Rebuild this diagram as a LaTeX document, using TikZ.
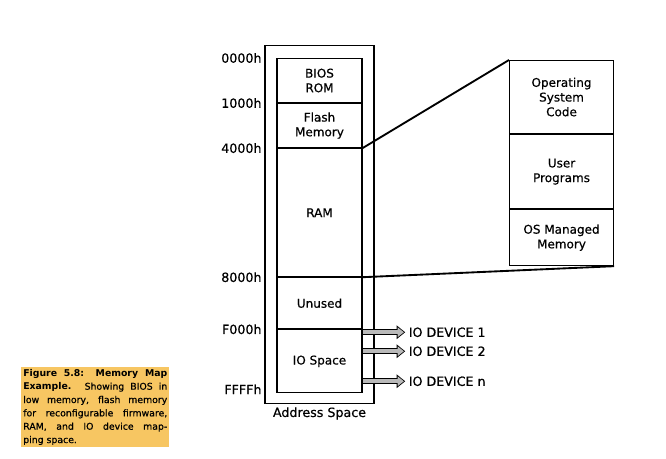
\documentclass[tikz,border=0pt]{standalone}
\usepackage{fontspec}
\setmainfont{DejaVu Sans}[FakeBold=0.6]
\newfontfamily\capbold{DejaVu Sans Bold}
\usepackage{xcolor}
\usepackage{tikz}
\usetikzlibrary{arrows.meta,positioning,fit,backgrounds}

\definecolor{capyellow}{RGB}{247,198,98}

\begin{document}
\begin{tikzpicture}[
    x=0.75pt, y=-0.75pt,
    seg/.style={draw, line width=0.8pt, align=center, minimum width=63.75pt, inner sep=0pt, font=\fontsize{9}{11}\selectfont},
    osseg/.style={draw, line width=0.8pt, align=center, minimum width=78pt, inner sep=0pt, font=\fontsize{9}{11}\selectfont},
    hex/.style={font=\fontsize{9.5}{11}\selectfont, inner sep=0pt},
    dev/.style={font=\fontsize{9.5}{11}\selectfont, inner sep=0pt},
    zoomline/.style={line width=1.4pt},
    ioarrow/.style={line width=4.4pt, -{Triangle[length=6.5pt, width=10pt]}, shorten >=2.5pt,
      postaction={draw=gray!55, line width=3pt, -{Triangle[length=4.6pt, width=7pt]}, shorten >=3.5pt, shorten <=0.6pt}}
    ,
    caption/.style={fill=capyellow, text width=108pt, inner sep=1.5pt, align=justify, font=\fontsize{7}{10}\selectfont}
]
\useasboundingbox (0,0) rectangle (666,459);

% Address space column
\node[seg, anchor=north, minimum height=33pt] (bios) at (319.5,58) {BIOS\\ROM};
\node[seg, below=0pt of bios, minimum height=33pt] (flash) {Flash\\Memory};
\node[seg, below=0pt of flash, minimum height=96pt] (ram) {RAM};
\node[seg, below=0pt of ram, minimum height=38.25pt] (unused) {Unused};
\node[seg, below=0pt of unused, minimum height=47.25pt] (io) {IO Space};

% Outer box
\node[draw, line width=1.1pt, inner sep=8.5pt, fit=(bios)(io), yshift=0.75pt, minimum height=260pt,
      label={[font=\fontsize{9.5}{11}\selectfont, inner sep=2pt]below:Address Space}] (space) {};

% Addresses
\node[hex, left=11pt of bios.north west, anchor=east] (a0) {0000h};
\node[hex, left=11pt of flash.north west, anchor=east] (a1) {1000h};
\node[hex, left=11pt of ram.north west, anchor=east] (a4) {4000h};
\node[hex, left=11pt of unused.north west, anchor=east] (a8) {8000h};
\node[hex, left=11pt of io.north west, anchor=east] (af) {F000h};
\node[hex, left=11pt of io.south west, anchor=east, yshift=3pt] (aff) {FFFFh};

% RAM detail
\node[osseg, anchor=north west, minimum height=54.75pt] (os) at (509,60) {Operating\\System\\Code};
\node[osseg, below=0pt of os, minimum height=55.5pt] (user) {User\\Programs};
\node[osseg, below=0pt of user, minimum height=42pt] (osmem) {OS Managed\\Memory};

\draw[zoomline] (flash.south east) -- (os.north west);
\draw[zoomline] (ram.south east) -- (osmem.south east);

% IO devices
\node[dev, right=34.5pt of io.north east, anchor=west, yshift=-2.25pt] (dev1) {IO DEVICE 1};
\node[dev, right=34.5pt of io.north east, anchor=west, yshift=-16.5pt] (dev2) {IO DEVICE 2};
\node[dev, right=34.5pt of io.north east, anchor=west, yshift=-39pt] (devn) {IO DEVICE n};

\draw[ioarrow] (io.east |- dev1.west) -- (dev1.west);
\draw[ioarrow] (io.east |- dev2.west) -- (dev2.west);
\draw[ioarrow] (io.east |- devn.west) -- (devn.west);

% Caption
\node[caption, anchor=north west] (cap) at (21,367) {{\capbold Figure 5.8: Memory Map\linebreak
Example.} Showing BIOS in\linebreak low memory, flash memory\linebreak
for reconfigurable firmware,\linebreak RAM, and IO device map-\linebreak ping space.};
\end{tikzpicture}
\end{document}
